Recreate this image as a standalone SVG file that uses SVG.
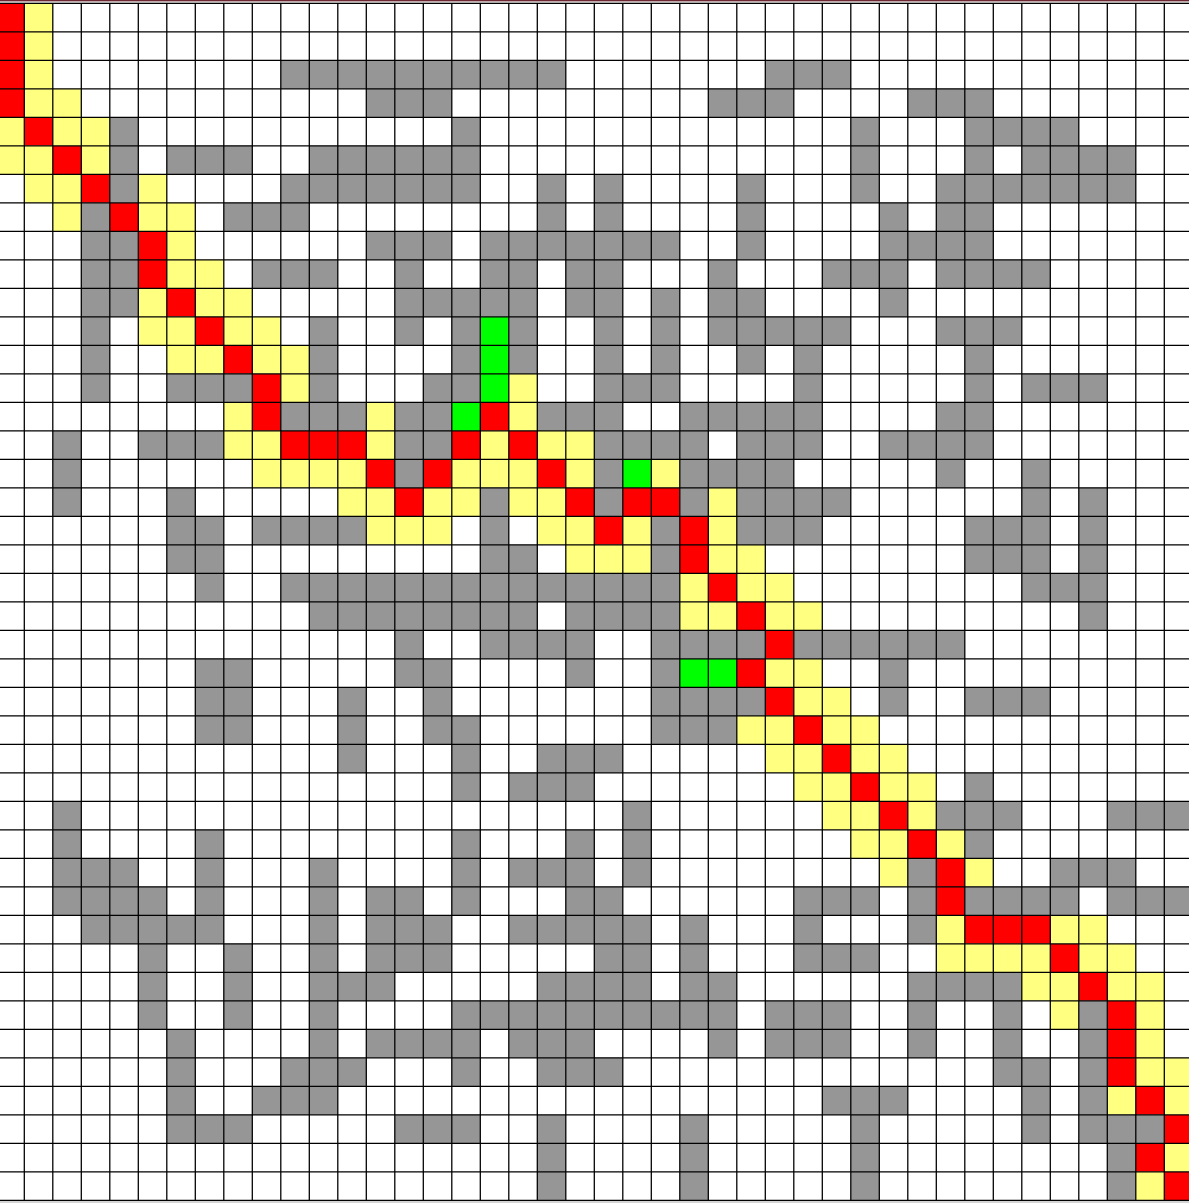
<svg xmlns="http://www.w3.org/2000/svg" width="1189" height="1203" viewBox="0 0 1189 1203">
<style>
.g{fill:#969696}
.r{fill:#ff0000}
.y{fill:#ffff80}
.n{fill:#00ff00}
.grid{fill:none;stroke:#000;stroke-width:0.045}
</style>
<rect x="0" y="0" width="1189" height="1203" fill="#ffffff"/>
<rect x="0" y="0" width="1189" height="3.3" fill="#e4e4e4"/>
<rect x="0" y="0" width="1189" height="1.3" fill="#6e2630"/>
<rect x="0" y="1200.3" width="1189" height="2.7" fill="#d4d4d4"/>
<g id="grid" transform="translate(-4.2 3.3) scale(28.5)">
<path class="r" d="M0 0h1v4h-1zM1 4h1v1h-1zM2 5h1v1h-1zM3 6h1v1h-1zM4 7h1v1h-1zM5 8h1v2h-1zM6 10h1v1h-1zM7 11h1v1h-1zM8 12h1v1h-1zM9 13h1v2h-1zM17 14h1v1h-1zM10 15h3v1h-3zM16 15h1v1h-1zM18 15h1v1h-1zM13 16h1v1h-1zM15 16h1v1h-1zM19 16h1v1h-1zM14 17h1v1h-1zM20 17h1v1h-1zM22 17h2v1h-2zM21 18h1v1h-1zM24 18h1v2h-1zM25 20h1v1h-1zM26 21h1v1h-1zM27 22h1v1h-1zM26 23h1v1h-1zM27 24h1v1h-1zM28 25h1v1h-1zM29 26h1v1h-1zM30 27h1v1h-1zM31 28h1v1h-1zM32 29h1v1h-1zM33 30h1v2h-1zM34 32h3v1h-3zM37 33h1v1h-1zM38 34h1v1h-1zM39 35h1v3h-1zM40 38h1v1h-1zM41 39h1v1h-1zM40 40h1v1h-1zM41 41h1v1h-1z"/>
<path class="n" d="M17 11h1v3h-1zM16 14h1v1h-1zM22 16h1v1h-1zM24 23h2v1h-2z"/>
<path class="y" d="M1 0h1v4h-1zM2 3h1v1h-1zM0 4h1v1h-1zM2 4h2v1h-2zM0 5h2v1h-2zM3 5h1v1h-1zM1 6h2v1h-2zM5 6h1v1h-1zM2 7h1v1h-1zM5 7h2v1h-2zM6 8h1v1h-1zM6 9h2v1h-2zM5 10h1v1h-1zM7 10h2v1h-2zM5 11h2v1h-2zM8 11h2v1h-2zM6 12h2v1h-2zM9 12h2v1h-2zM10 13h1v1h-1zM18 13h1v1h-1zM8 14h1v1h-1zM13 14h1v1h-1zM18 14h1v1h-1zM8 15h2v1h-2zM13 15h1v1h-1zM17 15h1v1h-1zM19 15h2v1h-2zM9 16h4v1h-4zM16 16h3v1h-3zM20 16h1v1h-1zM23 16h1v1h-1zM12 17h2v1h-2zM15 17h2v1h-2zM18 17h2v1h-2zM25 17h1v1h-1zM13 18h3v1h-3zM19 18h2v1h-2zM22 18h1v1h-1zM25 18h1v1h-1zM20 19h3v1h-3zM25 19h2v1h-2zM24 20h1v1h-1zM26 20h2v1h-2zM24 21h2v1h-2zM27 21h2v1h-2zM27 23h2v1h-2zM28 24h2v1h-2zM26 25h2v1h-2zM29 25h2v1h-2zM27 26h2v1h-2zM30 26h2v1h-2zM28 27h2v1h-2zM31 27h2v1h-2zM29 28h2v1h-2zM32 28h1v1h-1zM30 29h2v1h-2zM33 29h1v1h-1zM31 30h1v1h-1zM34 30h1v1h-1zM33 32h1v1h-1zM37 32h2v1h-2zM33 33h4v1h-4zM38 33h2v1h-2zM36 34h2v1h-2zM39 34h2v1h-2zM37 35h1v1h-1zM40 35h1v1h-1zM40 36h1v1h-1zM40 37h2v1h-2zM39 38h1v1h-1zM41 38h1v1h-1zM41 40h1v1h-1zM40 41h1v1h-1z"/>
<path class="g" d="M10 2h10v1h-10zM27 2h3v1h-3zM13 3h3v1h-3zM25 3h3v1h-3zM32 3h3v1h-3zM4 4h1v1h-1zM16 4h1v1h-1zM30 4h1v1h-1zM34 4h4v1h-4zM4 5h1v1h-1zM6 5h3v1h-3zM11 5h6v1h-6zM30 5h1v1h-1zM34 5h1v1h-1zM36 5h4v1h-4zM4 6h1v1h-1zM10 6h7v1h-7zM19 6h1v1h-1zM21 6h1v1h-1zM26 6h1v1h-1zM30 6h1v1h-1zM33 6h7v1h-7zM3 7h1v1h-1zM8 7h3v1h-3zM19 7h1v1h-1zM21 7h1v1h-1zM26 7h1v1h-1zM31 7h1v1h-1zM33 7h2v1h-2zM3 8h2v1h-2zM13 8h3v1h-3zM17 8h7v1h-7zM26 8h1v1h-1zM31 8h4v1h-4zM3 9h2v1h-2zM9 9h3v1h-3zM14 9h1v1h-1zM17 9h2v1h-2zM20 9h2v1h-2zM25 9h1v1h-1zM29 9h3v1h-3zM33 9h4v1h-4zM3 10h2v1h-2zM14 10h5v1h-5zM20 10h2v1h-2zM23 10h1v1h-1zM25 10h2v1h-2zM31 10h1v1h-1zM3 11h1v1h-1zM11 11h1v1h-1zM14 11h1v1h-1zM16 11h1v1h-1zM18 11h1v1h-1zM21 11h1v1h-1zM23 11h1v1h-1zM25 11h5v1h-5zM33 11h3v1h-3zM3 12h1v1h-1zM11 12h1v1h-1zM16 12h1v1h-1zM18 12h1v1h-1zM21 12h1v1h-1zM23 12h1v1h-1zM26 12h1v1h-1zM28 12h1v1h-1zM34 12h1v1h-1zM3 13h1v1h-1zM6 13h3v1h-3zM11 13h1v1h-1zM15 13h2v1h-2zM21 13h3v1h-3zM28 13h1v1h-1zM34 13h1v1h-1zM36 13h3v1h-3zM10 14h3v1h-3zM14 14h2v1h-2zM19 14h3v1h-3zM24 14h5v1h-5zM33 14h2v1h-2zM2 15h1v1h-1zM5 15h3v1h-3zM14 15h2v1h-2zM21 15h4v1h-4zM26 15h3v1h-3zM31 15h4v1h-4zM2 16h1v1h-1zM14 16h1v1h-1zM21 16h1v1h-1zM24 16h4v1h-4zM33 16h1v1h-1zM36 16h1v1h-1zM2 17h1v1h-1zM6 17h1v1h-1zM17 17h1v1h-1zM21 17h1v1h-1zM24 17h1v1h-1zM26 17h4v1h-4zM36 17h1v1h-1zM38 17h1v1h-1zM6 18h2v1h-2zM9 18h4v1h-4zM17 18h1v1h-1zM23 18h1v1h-1zM26 18h3v1h-3zM34 18h3v1h-3zM38 18h1v1h-1zM6 19h2v1h-2zM17 19h2v1h-2zM23 19h1v1h-1zM34 19h3v1h-3zM38 19h1v1h-1zM7 20h1v1h-1zM10 20h14v1h-14zM36 20h3v1h-3zM11 21h8v1h-8zM20 21h4v1h-4zM38 21h1v1h-1zM14 22h1v1h-1zM17 22h4v1h-4zM23 22h4v1h-4zM28 22h6v1h-6zM7 23h2v1h-2zM14 23h2v1h-2zM20 23h1v1h-1zM23 23h1v1h-1zM31 23h1v1h-1zM7 24h2v1h-2zM12 24h1v1h-1zM15 24h1v1h-1zM23 24h4v1h-4zM31 24h1v1h-1zM34 24h3v1h-3zM7 25h2v1h-2zM12 25h1v1h-1zM15 25h2v1h-2zM23 25h3v1h-3zM12 26h1v1h-1zM16 26h1v1h-1zM19 26h3v1h-3zM16 27h1v1h-1zM18 27h3v1h-3zM34 27h1v1h-1zM2 28h1v1h-1zM22 28h1v1h-1zM33 28h3v1h-3zM39 28h3v1h-3zM2 29h1v1h-1zM7 29h1v1h-1zM16 29h1v1h-1zM20 29h1v1h-1zM22 29h1v1h-1zM34 29h1v1h-1zM2 30h3v1h-3zM7 30h1v1h-1zM11 30h1v1h-1zM16 30h1v1h-1zM18 30h3v1h-3zM22 30h1v1h-1zM32 30h1v1h-1zM37 30h3v1h-3zM2 31h4v1h-4zM7 31h1v1h-1zM11 31h1v1h-1zM13 31h2v1h-2zM16 31h1v1h-1zM20 31h2v1h-2zM28 31h3v1h-3zM32 31h1v1h-1zM34 31h4v1h-4zM39 31h3v1h-3zM3 32h5v1h-5zM11 32h1v1h-1zM13 32h3v1h-3zM18 32h5v1h-5zM24 32h1v1h-1zM28 32h1v1h-1zM32 32h1v1h-1zM5 33h1v1h-1zM8 33h1v1h-1zM11 33h1v1h-1zM13 33h3v1h-3zM21 33h2v1h-2zM24 33h1v1h-1zM28 33h3v1h-3zM5 34h1v1h-1zM8 34h1v1h-1zM11 34h3v1h-3zM19 34h4v1h-4zM24 34h2v1h-2zM32 34h4v1h-4zM5 35h1v1h-1zM8 35h1v1h-1zM11 35h1v1h-1zM16 35h10v1h-10zM27 35h3v1h-3zM32 35h1v1h-1zM35 35h1v1h-1zM38 35h1v1h-1zM6 36h1v1h-1zM11 36h1v1h-1zM13 36h4v1h-4zM18 36h3v1h-3zM25 36h1v1h-1zM27 36h3v1h-3zM32 36h1v1h-1zM35 36h1v1h-1zM38 36h1v1h-1zM6 37h1v1h-1zM10 37h3v1h-3zM16 37h1v1h-1zM19 37h3v1h-3zM35 37h2v1h-2zM38 37h1v1h-1zM6 38h1v1h-1zM9 38h3v1h-3zM29 38h3v1h-3zM36 38h1v1h-1zM38 38h1v1h-1zM6 39h3v1h-3zM14 39h3v1h-3zM19 39h1v1h-1zM24 39h1v1h-1zM30 39h1v1h-1zM36 39h1v1h-1zM38 39h3v1h-3zM19 40h1v1h-1zM24 40h1v1h-1zM30 40h1v1h-1zM39 40h1v1h-1zM19 41h1v1h-1zM24 41h1v1h-1zM30 41h1v1h-1zM39 41h1v1h-1z"/>
<path class="grid" d="M0 0H42M0 1H42M0 2H42M0 3H42M0 4H42M0 5H42M0 6H42M0 7H42M0 8H42M0 9H42M0 10H42M0 11H42M0 12H42M0 13H42M0 14H42M0 15H42M0 16H42M0 17H42M0 18H42M0 19H42M0 20H42M0 21H42M0 22H42M0 23H42M0 24H42M0 25H42M0 26H42M0 27H42M0 28H42M0 29H42M0 30H42M0 31H42M0 32H42M0 33H42M0 34H42M0 35H42M0 36H42M0 37H42M0 38H42M0 39H42M0 40H42M0 41H42M0 42H42M1 0V42M2 0V42M3 0V42M4 0V42M5 0V42M6 0V42M7 0V42M8 0V42M9 0V42M10 0V42M11 0V42M12 0V42M13 0V42M14 0V42M15 0V42M16 0V42M17 0V42M18 0V42M19 0V42M20 0V42M21 0V42M22 0V42M23 0V42M24 0V42M25 0V42M26 0V42M27 0V42M28 0V42M29 0V42M30 0V42M31 0V42M32 0V42M33 0V42M34 0V42M35 0V42M36 0V42M37 0V42M38 0V42M39 0V42M40 0V42M41 0V42"/>
</g>
</svg>
